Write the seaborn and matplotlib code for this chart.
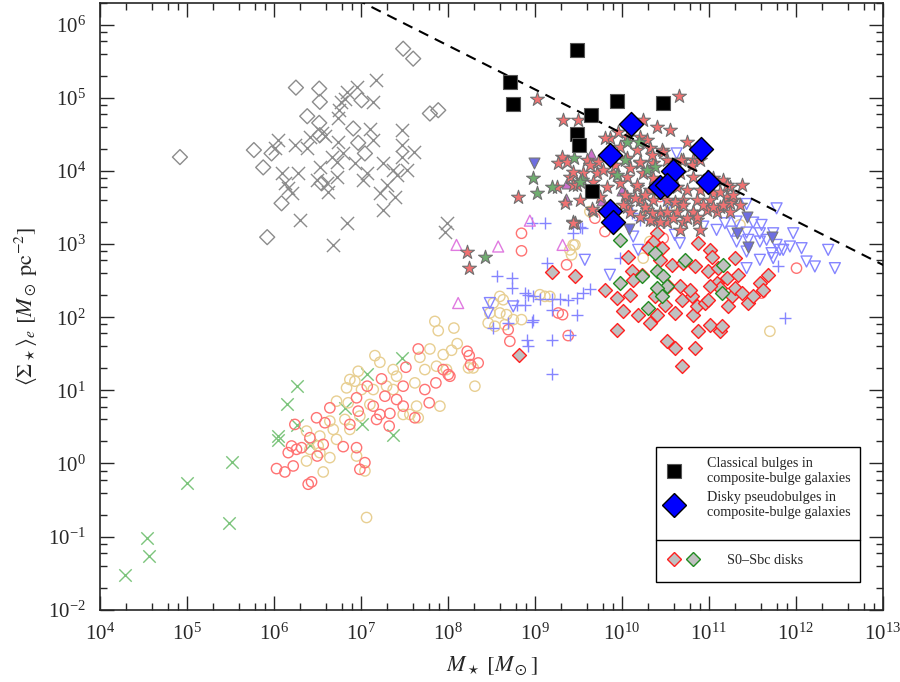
import numpy as np
import matplotlib
matplotlib.use("Agg")
import matplotlib.pyplot as plt
import seaborn as sns
from matplotlib.lines import Line2D
from matplotlib.patches import Rectangle
from matplotlib.legend_handler import HandlerTuple
from matplotlib.ticker import FixedLocator, NullFormatter

sns.set_style("ticks")
plt.rcParams["font.family"] = ["Liberation Serif", "DejaVu Serif"]
plt.rcParams["mathtext.fontset"] = "stix"
plt.rcParams["axes.unicode_minus"] = False

# every row: [log10 M*, log10 <Sigma*>_e]

# grey crosses and open diamonds (upper left group)
gray_x = np.array([
    [7.168, 5.249], [6.950, 5.149], [6.835, 5.081], [6.816, 4.990], [6.777, 4.945],
    [7.141, 4.945], [6.751, 4.831], [6.739, 4.718], [7.103, 4.568], [7.467, 4.558],
    [6.548, 4.513], [6.586, 4.477], [6.413, 4.467], [6.739, 4.399], [7.141, 4.422],
    [6.049, 4.422], [6.241, 4.354], [6.011, 4.308], [6.375, 4.308], [7.467, 4.354],
    [6.797, 4.240], [6.663, 4.195], [7.613, 4.263], [7.467, 4.195], [6.720, 4.127],
    [6.931, 4.104], [6.279, 3.968], [6.088, 3.968], [6.528, 4.058], [7.256, 4.104],
    [7.065, 3.968], [7.371, 4.013], [7.525, 4.013], [6.126, 3.831], [6.164, 3.763],
    [6.203, 3.695], [6.490, 3.877], [6.720, 3.922], [6.605, 3.831], [7.027, 3.877],
    [7.410, 3.945], [7.295, 3.809], [7.218, 3.695], [7.390, 3.649], [6.624, 3.717],
    [7.256, 3.467], [6.299, 3.331], [6.835, 3.286], [6.682, 2.990], [7.984, 3.286],
    [7.965, 3.172]])
gray_d = np.array([
    [7.486, 5.672], [7.601, 5.536], [6.253, 5.140], [6.521, 5.127], [6.528, 4.945],
    [7.007, 4.967], [6.383, 4.749], [6.521, 4.658], [6.912, 4.581], [7.793, 4.786],
    [7.889, 4.831], [6.528, 4.490], [6.969, 4.385], [7.046, 4.240], [5.770, 4.286],
    [5.973, 4.240], [5.877, 4.049], [6.548, 3.831], [6.088, 3.558], [5.923, 3.095],
    [4.920, 4.190]])

# green crosses (low mass)
green_x = np.array([
    [4.283, -1.525], [4.536, -1.025], [4.567, -1.261], [5.004, -0.261], [5.483, -0.816],
    [5.513, 0.020], [6.050, 0.375], [6.050, 0.320], [6.146, 0.807], [6.268, 1.066],
    [6.268, 0.520], [6.414, 0.248], [6.816, 0.761], [7.007, 0.534], [7.073, 1.230],
    [7.371, 0.384], [7.467, 1.443]])

# open circles
red_c = np.array([
    [7.659, 1.566], [7.517, 1.316], [8.222, 1.534], [8.245, 1.475], [8.260, 1.352],
    [8.348, 1.375], [8.023, 1.193], [7.862, 1.102], [7.735, 1.011], [7.785, 0.830],
    [7.620, 0.625], [7.486, 1.057], [7.486, 0.784], [7.333, 0.684], [7.325, 0.511],
    [7.218, 0.670], [7.142, 0.784], [7.237, 1.157], [7.073, 1.057], [6.950, 0.898],
    [6.969, 0.716], [7.276, 0.920], [6.873, 0.534], [6.643, 0.761], [6.490, 0.625],
    [6.586, 0.557], [6.241, 0.534], [6.414, 0.352], [6.318, 0.216], [6.203, 0.239],
    [6.260, 0.193], [6.165, 0.148], [6.567, 0.261], [6.797, 0.230], [6.950, 0.216],
    [6.498, 0.102], [7.046, 0.011], [6.988, -0.080], [6.222, -0.034], [6.030, -0.070],
    [6.126, -0.116], [6.394, -0.284], [6.433, -0.252], [7.180, 0.602], [7.410, 0.875],
    [7.946, 1.284], [8.004, 1.216], [8.846, 3.148], [8.846, 2.908], [9.364, 2.717],
    [9.268, 2.058], [9.318, 2.035], [9.383, 1.749], [8.693, 1.830], [8.712, 1.671],
    [9.690, 3.354], [9.805, 3.172], [10.437, 3.649], [10.475, 3.080], [12.007, 2.671],
    [11.605, 2.330]])
yellow_c = np.array([
    [7.850, 1.943], [7.889, 1.816], [8.069, 1.852], [7.793, 1.566], [8.107, 1.639],
    [8.042, 1.548], [7.946, 1.489], [7.678, 1.452], [7.161, 1.475], [7.218, 1.384],
    [6.969, 1.261], [6.873, 1.148], [6.835, 1.034], [6.931, 1.125], [7.007, 1.011],
    [7.371, 1.284], [7.410, 1.193], [7.620, 1.102], [7.735, 1.284], [7.869, 1.330],
    [7.984, 1.284], [8.237, 1.307], [8.291, 1.307], [8.310, 1.057], [7.908, 0.784],
    [7.640, 0.784], [7.563, 0.670], [7.659, 0.625], [7.486, 0.670], [7.371, 1.011],
    [7.295, 1.057], [7.142, 1.011], [7.103, 0.807], [6.720, 0.852], [6.816, 0.602],
    [6.873, 0.466], [6.988, 0.648], [6.643, 0.580], [6.682, 0.466], [6.375, 0.443],
    [6.528, 0.375], [6.720, 0.330], [6.414, 0.193], [6.643, 0.080], [6.528, 0.148],
    [6.950, 0.102], [6.375, 0.034], [6.567, -0.116], [7.046, -0.102], [7.065, -0.739],
    [6.854, 0.830], [6.509, 0.239], [9.440, 2.989], [9.402, 2.921], [9.421, 2.853],
    [8.597, 2.285], [8.636, 2.239], [8.521, 2.194], [8.482, 2.058], [8.597, 2.058],
    [8.674, 2.035], [8.463, 1.921], [8.540, 1.876], [8.655, 1.898], [8.751, 1.967],
    [8.846, 1.967], [9.057, 2.308], [9.115, 2.285], [9.172, 2.285], [9.632, 3.445],
    [10.303, 3.399], [10.552, 3.467], [9.460, 2.990], [11.357, 3.263], [10.245, 2.808],
    [10.322, 3.035], [11.701, 1.808]])

# blue plus signs and triangles
blue_p = np.array([
    [8.961, 3.285], [9.115, 3.285], [9.440, 3.148], [9.134, 2.739], [8.559, 2.567],
    [8.732, 2.535], [8.732, 2.398], [8.885, 2.330], [8.923, 2.308], [8.981, 2.285],
    [9.057, 2.248], [9.191, 2.248], [9.287, 2.248], [9.383, 2.239], [9.479, 2.262],
    [9.632, 2.385], [9.191, 2.103], [9.479, 2.035], [8.885, 2.171], [8.789, 2.171],
    [8.981, 1.967], [8.961, 1.930], [9.191, 1.694], [8.904, 1.694], [8.923, 1.603],
    [9.402, 1.762], [9.191, 1.217], [8.521, 1.853], [8.693, 1.921], [9.517, 3.231],
    [10.207, 3.331], [10.111, 3.431], [9.536, 3.217], [9.977, 2.808], [9.555, 2.330],
    [11.797, 2.694], [11.873, 1.989]])
blue_t = np.array([
    [11.433, 3.548], [11.778, 3.489], [11.184, 3.285], [11.318, 3.308], [11.509, 3.294],
    [11.605, 3.262], [11.088, 3.194], [11.260, 3.171], [11.433, 3.158], [11.586, 3.148],
    [11.739, 3.148], [11.318, 3.035], [11.452, 3.058], [11.586, 3.035], [11.663, 3.058],
    [11.778, 2.989], [11.816, 2.921], [11.931, 2.967], [11.969, 3.148], [12.065, 2.944],
    [12.371, 2.921], [11.433, 2.898], [11.586, 2.785], [11.433, 2.671], [11.720, 2.876],
    [11.739, 2.808], [10.609, 3.126], [10.666, 3.012], [10.187, 2.921], [10.130, 3.103],
    [12.122, 2.762], [12.218, 2.694], [12.448, 2.671], [9.862, 2.580], [9.574, 2.785],
    [10.935, 3.239], [10.532, 3.535], [11.854, 2.921], [10.629, 4.240], [8.482, 2.194],
    [8.463, 2.058], [8.751, 2.148]])
blue_tf = np.array([
    [8.989, 4.104], [10.081, 3.204], [11.433, 3.376], [11.318, 3.148], [11.452, 2.967],
    [11.720, 3.103]])

# violet triangles
violet_t = np.array([[8.099, 2.989], [8.578, 2.967], [8.118, 2.194], [8.942, 3.321],
                     [9.318, 2.989]])
violet_tf = np.array([[9.644, 4.231], [9.372, 3.840], [9.357, 3.613], [9.996, 3.740],
                      [9.767, 3.604]])

# stars
red_s = np.array([
    [10.659, 5.022], [9.019, 4.990], [9.326, 4.704], [9.498, 4.695], [10.245, 4.704],
    [10.399, 4.604], [10.552, 4.558], [10.743, 4.399], [9.862, 4.445], [10.054, 4.467],
    [10.207, 4.467], [10.284, 4.422], [9.977, 4.331], [10.169, 4.286], [10.322, 4.308],
    [10.456, 4.286], [9.307, 4.195], [9.268, 4.104], [9.594, 4.149], [9.728, 4.127],
    [10.054, 4.172], [10.207, 4.104], [10.360, 4.104], [10.514, 4.149], [10.705, 4.149],
    [10.820, 4.149], [9.402, 3.922], [9.556, 3.967], [9.709, 3.967], [9.901, 3.967],
    [10.054, 3.922], [10.245, 3.967], [10.360, 3.899], [10.667, 3.967], [10.820, 3.922],
    [10.973, 3.922], [11.165, 3.877], [11.242, 3.786], [8.809, 3.649], [9.249, 3.786],
    [9.441, 3.808], [9.824, 3.786], [9.977, 3.831], [10.169, 3.786], [10.322, 3.740],
    [10.629, 3.786], [10.743, 3.740], [10.897, 3.740], [11.050, 3.695], [11.203, 3.649],
    [11.280, 3.604], [9.747, 3.649], [10.054, 3.649], [10.207, 3.604], [10.360, 3.604],
    [10.514, 3.604], [10.705, 3.604], [10.858, 3.604], [11.012, 3.604], [11.127, 3.513],
    [11.242, 3.558], [10.054, 3.513], [10.284, 3.467], [10.437, 3.445], [10.629, 3.445],
    [10.820, 3.445], [10.973, 3.467], [11.088, 3.445], [10.360, 3.331], [10.514, 3.308],
    [10.705, 3.308], [10.858, 3.331], [9.460, 3.286], [10.667, 3.195], [10.897, 3.195],
    [9.804, 4.445], [9.957, 4.536], [10.207, 4.127], [10.092, 4.036], [9.785, 4.013],
    [9.632, 4.081], [9.440, 3.990], [9.364, 4.127], [9.479, 3.808], [9.670, 3.854],
    [9.919, 4.081], [10.341, 4.217], [10.475, 4.263], [10.685, 4.149], [10.800, 4.081],
    [10.896, 4.149], [11.049, 3.899], [11.126, 3.717], [11.279, 3.672], [11.375, 3.808],
    [11.203, 3.808], [10.168, 3.808], [10.264, 3.672], [10.149, 3.627], [10.034, 3.672],
    [10.015, 3.536], [10.092, 3.445], [10.264, 3.513], [10.341, 3.422], [10.513, 3.445],
    [10.609, 3.581], [10.705, 3.536], [10.820, 3.445], [10.935, 3.536], [11.049, 3.513],
    [11.164, 3.536], [11.241, 3.445], [11.356, 3.536], [10.858, 3.377], [10.743, 3.354],
    [10.590, 3.354], [10.436, 3.308], [10.321, 3.331], [10.207, 3.377], [9.517, 3.604],
    [9.344, 3.558], [9.440, 3.308], [9.670, 3.454], [8.214, 2.898], [8.245, 2.671],
    [9.440, 3.285], [9.662, 3.476]])
green_s = np.array([
    [8.973, 3.899], [9.019, 3.695], [9.192, 3.786], [9.448, 4.172], [9.536, 3.877],
    [9.939, 3.945], [10.054, 4.399], [10.199, 4.399], [10.379, 4.058], [10.284, 4.013],
    [10.034, 4.149], [8.425, 2.830], [9.517, 3.854]])

# S0-Sbc disks
s0_red = np.array([
    [10.406, 3.148], [10.360, 3.035], [10.302, 2.944], [10.456, 2.944], [10.877, 3.012],
    [11.011, 2.921], [11.030, 2.830], [11.299, 2.808], [10.073, 2.830], [10.437, 2.785],
    [10.571, 2.717], [10.705, 2.739], [10.839, 2.694], [10.992, 2.626], [11.107, 2.671],
    [11.203, 2.535], [11.337, 2.580], [11.682, 2.580], [11.586, 2.467], [10.111, 2.626],
    [10.226, 2.580], [9.804, 2.376], [9.938, 2.262], [10.015, 2.080], [10.187, 2.035],
    [10.322, 1.921], [10.398, 2.035], [10.494, 2.171], [10.609, 2.058], [10.686, 2.239],
    [10.801, 2.285], [10.820, 2.035], [10.858, 2.148], [10.954, 2.194], [10.992, 2.239],
    [11.088, 2.467], [11.126, 2.398], [11.260, 2.285], [11.299, 2.398], [11.375, 2.330],
    [11.452, 2.194], [11.509, 2.285], [11.624, 2.376], [10.532, 2.421], [10.379, 2.285],
    [10.130, 2.512], [10.092, 2.308], [9.938, 1.830], [10.513, 1.671], [10.609, 1.580],
    [10.839, 1.580], [10.877, 1.808], [11.011, 1.898], [11.126, 1.808], [11.145, 1.876],
    [10.686, 1.330], [10.666, 2.421], [10.781, 2.376], [11.011, 2.421], [11.222, 2.148],
    [9.191, 2.612], [9.459, 2.567], [8.820, 1.480]])
s0_green = np.array([
    [9.977, 3.058], [10.379, 2.876], [10.724, 2.785], [11.165, 2.717], [10.226, 2.558],
    [10.398, 2.626], [10.475, 2.558], [10.513, 2.421], [10.398, 2.398], [10.456, 2.285],
    [9.977, 2.467], [10.302, 2.126], [11.145, 2.330]])

# bulges of composite-bulge galaxies
classical = np.array([
    [9.479, 5.649], [8.713, 5.217], [8.743, 4.922], [9.946, 4.958], [10.475, 4.930],
    [9.644, 4.763], [9.486, 4.503], [9.506, 4.353], [9.651, 3.730]])
pseudo = np.array([
    [10.103, 4.649], [9.862, 4.217], [10.908, 4.295], [10.582, 3.999], [10.437, 3.785],
    [10.513, 3.808], [10.992, 3.844], [9.862, 3.453], [9.900, 3.307]])

# dashed upper envelope: log S = a + b log M
env_a, env_b = 10.516, -0.6
env_logm = np.array([6.5, 13.2])

# axis decades shown
x_decades = np.arange(4, 14)
y_decades = np.arange(-2, 7)

fig, ax = plt.subplots(figsize=(9, 6.82), dpi=100)
fig.subplots_adjust(left=0.111, right=0.981, bottom=0.106, top=0.996)
ax.set_xscale("log")
ax.set_yscale("log")


def draw(pairs, **kw):
    sns.scatterplot(x=10 ** pairs[:, 0], y=10 ** pairs[:, 1], ax=ax, legend=False, **kw)


gray = "#8c8c8c"
draw(gray_x, marker="x", s=90, color=gray, linewidth=1.0, zorder=2)
draw(gray_d, marker="D", s=58, color=gray, facecolor="none", edgecolor=gray, linewidth=1.0, zorder=2)
draw(green_x, marker="x", s=80, color="#7cc47c", linewidth=1.0, zorder=2)
draw(yellow_c, marker="o", s=55, color="#e8cf92", facecolor="none", edgecolor="#e8cf92", linewidth=1.0, zorder=2)
draw(red_c, marker="o", s=55, color="#ff7373", facecolor="none", edgecolor="#ff7373", linewidth=1.0, zorder=2)
draw(blue_p, marker="+", s=75, color="#8585ff", linewidth=1.0, zorder=2)
draw(blue_t, marker="v", s=62, color="#8585ff", facecolor="none", edgecolor="#8585ff", linewidth=1.0, zorder=2)
draw(violet_t, marker="^", s=62, color="#e07ae0", facecolor="none", edgecolor="#e07ae0", linewidth=1.0, zorder=2)
draw(blue_tf, marker="v", s=62, color="#6e6ee0", edgecolor="#777777", linewidth=0.8, zorder=3)
draw(violet_tf, marker="^", s=62, color="#cc70cc", edgecolor="#777777", linewidth=0.8, zorder=3)
draw(s0_red, marker="D", s=50, color="#c0c0c0", edgecolor="#ff2020", linewidth=1.0, zorder=3)
draw(s0_green, marker="D", s=50, color="#c0c0c0", edgecolor="#228b22", linewidth=1.0, zorder=3)
draw(red_s, marker="*", s=110, color="#f07272", edgecolor="#707070", linewidth=0.8, zorder=4)
draw(green_s, marker="*", s=110, color="#6fae6f", edgecolor="#707070", linewidth=0.8, zorder=4)
draw(classical, marker="s", s=100, color="black", edgecolor="#555555", linewidth=0.8, zorder=6)
draw(pseudo, marker="D", s=150, color="blue", edgecolor="black", linewidth=1.0, zorder=7)

ax.plot(10 ** env_logm, 10 ** (env_a + env_b * env_logm), color="black",
        lw=1.5, ls=(0, (5, 3.5)), zorder=5)

ax.set_xlim(1e4, 1e13)
ax.set_ylim(1e-2, 2e6)
# only in-range ticks; minor ticks at 2, 4, 6, 8 of each decade
ax.set_xticks(10.0 ** x_decades)
ax.set_yticks(10.0 ** y_decades)
subs = np.array([2, 4, 6, 8])
x_minor = np.outer(10.0 ** x_decades[:-1], subs).ravel()
y_minor = np.outer(10.0 ** y_decades, subs).ravel()
ax.xaxis.set_minor_locator(FixedLocator(x_minor))
ax.yaxis.set_minor_locator(FixedLocator(y_minor[y_minor <= 2e6]))
ax.xaxis.set_minor_formatter(NullFormatter())
ax.yaxis.set_minor_formatter(NullFormatter())
ax.tick_params(which="both", direction="in", top=True, right=True, width=1.0)
ax.tick_params(which="major", length=10, labelsize=15, pad=10)
ax.tick_params(which="minor", length=5)
for sp in ax.spines.values():
    sp.set_linewidth(1.2)

ax.set_xlabel(r"$M_\star\ [M_\odot]$", fontsize=16, labelpad=7)
ax.set_ylabel(r"$\langle\Sigma_\star\rangle_e\ [M_\odot\ \mathrm{pc}^{-2}]$", fontsize=16, labelpad=6)

# legend boxes
ax.add_patch(Rectangle((0.7101, 0.0461), 0.2605, 0.2224, transform=ax.transAxes,
                       facecolor="white", edgecolor="black", lw=1.0, zorder=8))
ax.plot([0.7101, 0.9706], [0.1153, 0.1153], transform=ax.transAxes, color="black",
        lw=1.0, zorder=9)

h_cb = Line2D([], [], ls="", marker="s", ms=10, mfc="black", mec="#555555", mew=0.8)
h_pb = Line2D([], [], ls="", marker="D", ms=12, mfc="blue", mec="black", mew=1.0)
h_r = Line2D([], [], ls="", marker="D", ms=7.5, mfc="#c0c0c0", mec="#ff2020", mew=1.0)
h_g = Line2D([], [], ls="", marker="D", ms=7.5, mfc="#c0c0c0", mec="#228b22", mew=1.0)

leg1 = ax.legend([h_cb, h_pb],
                 ["Classical bulges in\ncomposite-bulge galaxies",
                  "Disky pseudobulges in\ncomposite-bulge galaxies"],
                 loc="center left", bbox_to_anchor=(0.7101, 0.201), frameon=False,
                 fontsize=10.2, handlelength=1.7, handletextpad=1.5, borderpad=0.4,
                 borderaxespad=0, labelspacing=0.45)
leg1.set_zorder(10)
ax.add_artist(leg1)
leg2 = ax.legend([(h_r, h_g)], ["S0\u2013Sbc disks"],
                 handler_map={tuple: HandlerTuple(ndivide=None, pad=0)},
                 loc="center left", bbox_to_anchor=(0.7101, 0.0807), frameon=False,
                 fontsize=10.2, handlelength=2.7, handletextpad=1.7, borderpad=0.6,
                 borderaxespad=0)
leg2.set_zorder(10)

fig.savefig("out.png", dpi=100)
